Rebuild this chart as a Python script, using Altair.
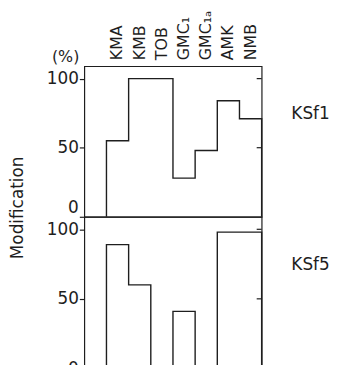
import json
import altair as alt
import pandas as pd

# ---- data ----
categories = ["KMA", "KMB", "TOB", "GMC₁", "GMC₁ₐ", "AMK", "NMB"]
ksf1 = [55, 100, 100, 28, 48, 84, 71]
ksf5 = [89, 60, 0, 41, 0, 98, 98]
panels = ["KSf1", "KSf5"]
y_ticks = [0, 50, 100]
right_ticks = [50, 100]
panel_label_at = [74, 74]

W = 179
H_TOP = 152
H_BOT = 153
FONT = "DejaVu Sans"
INK = "#1e1e1e"
N = len(categories)

x_scale = alt.Scale(domain=[0, N + 1], nice=False, zero=False)
y_scale = alt.Scale(domain=[0, 109], nice=False, zero=True)


def outline(values):
    rows = [{"slot": 1, "v": 0}]
    for i, v in enumerate(values):
        rows.append({"slot": i + 1, "v": v})
    rows.append({"slot": N + 1, "v": values[-1]})
    rows.append({"slot": N + 1, "v": 0})
    df = pd.DataFrame(rows)
    df["seq"] = range(len(df))
    return df


def y_enc(flush):
    return alt.Y(
        "v:Q",
        scale=y_scale,
        axis=alt.Axis(
            values=y_ticks, grid=False, domain=False, tickSize=5, tickColor=INK,
            tickWidth=1.2, labelFont=FONT, labelFontSize=17, labelPadding=1,
            labelFlush=flush, title=None, labelColor=INK,
        ),
    )


def panel(values, name, label_v, height, top):
    flush = top
    x_enc = alt.X("slot:Q", scale=x_scale, axis=None)
    line = alt.Chart(outline(values)).mark_line(
        interpolate="step-after", color=INK, strokeWidth=1.4
    ).encode(x=x_enc, y=y_enc(flush), order="seq:Q")
    rticks = alt.Chart(pd.DataFrame({"v": right_ticks})).mark_rule(
        color=INK, strokeWidth=1.2
    ).encode(y=y_enc(flush), x=alt.value(W - 5), x2=alt.value(W))
    lab = alt.Chart(pd.DataFrame({"v": [label_v], "name": [name]})).mark_text(
        align="left", baseline="middle", font=FONT, fontSize=17, color=INK
    ).encode(y=y_enc(flush), x=alt.value(W + 30), text="name:N")
    layers = [line, rticks, lab]
    if top:
        cats = pd.DataFrame({"cat": categories, "slot": [i + 1.5 for i in range(N)]})
        cat_labels = alt.Chart(cats).mark_text(
            align="left", baseline="middle", angle=270, font=FONT,
            fontSize=16, color=INK
        ).encode(x=x_enc, y=alt.value(-6), text="cat:N")
        ytitle = alt.Chart(pd.DataFrame({"t": ["Modification"]})).mark_text(
            align="center", baseline="middle", angle=270, font=FONT,
            fontSize=17, color=INK
        ).encode(text="t:N", x=alt.value(-67), y=alt.value(height - 9))
        pct = alt.Chart(pd.DataFrame({"t": ["(%)"]})).mark_text(
            align="right", baseline="middle", font=FONT, fontSize=16, color=INK
        ).encode(text="t:N", x=alt.value(-5), y=alt.value(-9))
        layers += [cat_labels, ytitle, pct]
    return alt.layer(*layers).properties(width=W, height=height)


top_chart = panel(ksf1, panels[0], panel_label_at[0], H_TOP, True)
bot_chart = panel(ksf5, panels[1], panel_label_at[1], H_BOT, False)

chart = alt.vconcat(
    top_chart, bot_chart, spacing=0, bounds="flush", background="white",
    padding=0,
).configure_view(stroke=INK, strokeWidth=1.2)

chart.save("out.html", embed_options={"renderer": "svg", "actions": False})
